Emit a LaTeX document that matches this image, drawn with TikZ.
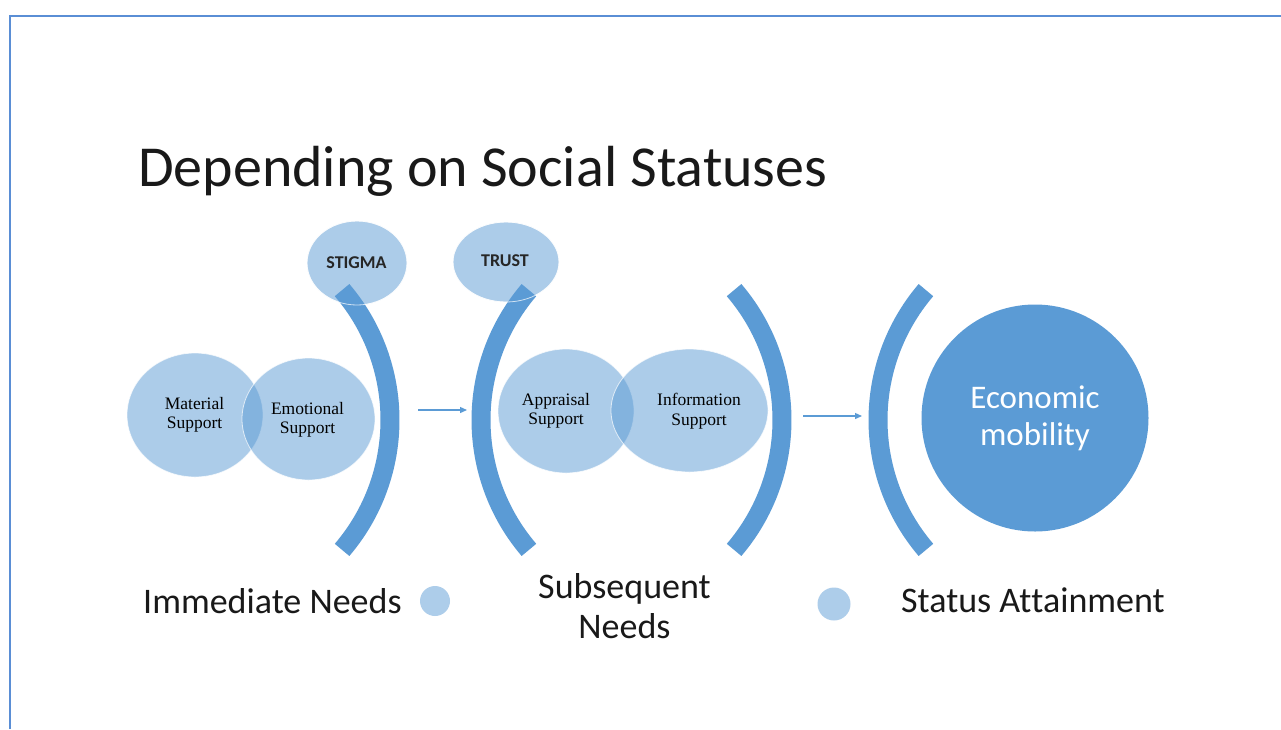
\documentclass[tikz,border=0pt]{standalone}
\usepackage{fontspec}
\setmainfont{Carlito}[Ligatures=NoCommon]
\newfontfamily\serifx{Liberation Serif}
\usetikzlibrary{arrows.meta,shapes.geometric}
\definecolor{accent}{HTML}{5B9BD5}
\definecolor{framec}{HTML}{5A8ED5}
\definecolor{dotc}{HTML}{ADCDEA}
\begin{document}
\begin{tikzpicture}[x=1pt,y=-1pt,
  bubble/.style={ellipse, inner sep=0, fill=accent, fill opacity=0.5, draw=white, draw opacity=0.7, line width=0.8},
  bracket/.style={draw=accent, line width=19},
  flow/.style={draw=accent, line width=1.3, -{Triangle[length=7,width=6]}},
  smalltxt/.style={inner sep=0, align=center, font=\serifx\fontsize{17.5}{19.5}\selectfont, text=black},
  tagtxt/.style={inner sep=0, anchor=base, font=\bfseries\fontsize{18}{20}\selectfont, text=black!85},
  legtxt/.style={inner sep=0, font=\fontsize{36}{40}\selectfont, text=black!90},
  legdot/.style={circle, inner sep=0, minimum size=30, fill=dotc}
]
\useasboundingbox (0,0) rectangle (1281,729);
\fill[white] (0,0) rectangle (1281,729);
% frame
\draw[framec, line width=2] (10,729) -- (10,16) -- (1281,16);
% title
\node[anchor=base west, inner sep=0, font=\fontsize{58}{61}\selectfont, text=black!90] (title) at (138,186) {Depending on Social Statuses};

% tag ellipses
\node[bubble, minimum width=100, minimum height=84] (stig) at (357,263) {};
\node[bubble, minimum width=106, minimum height=80] (trust) at (506,262) {};

% support bubbles
\node[bubble, minimum width=136, minimum height=124] (mat) at (195,415) {};
\node[bubble, minimum width=133, minimum height=122] (emo) at (308.5,419) {};
\node[bubble, minimum width=136, minimum height=124] (app) at (566,411) {};
\node[bubble, minimum width=157, minimum height=123] (inf) at (689.5,410.5) {};

% brackets
\draw[bracket] (190,420) ++(40.5:200) arc[start angle=40.5, end angle=-40.5, radius=200];
\draw[bracket] (681,420) ++(139.5:200) arc[start angle=139.5, end angle=220.5, radius=200];
\draw[bracket] (582,420) ++(40.5:200) arc[start angle=40.5, end angle=-40.5, radius=200];
\draw[bracket] (1078,420) ++(139.5:200) arc[start angle=139.5, end angle=220.5, radius=200];

% white rims of tag ellipses over brackets
\draw[white, draw opacity=0.7, line width=0.8] (stig.center) ellipse[x radius=50, y radius=42];
\draw[white, draw opacity=0.7, line width=0.8] (trust.center) ellipse[x radius=53, y radius=40];

% texts
\node[tagtxt] (stigt) at (356.5,268) {STIGMA};
\node[tagtxt] (trustt) at (505,266) {TRUST};
\node[smalltxt] (matt) at (194.5,415) {Material\\Support};
\node[smalltxt] (emot) at (307.5,420) {Emotional\\Support};
\node[smalltxt] (appt) at (556,411) {Appraisal\\Support};
\node[smalltxt] (inft) at (699,411) {Information\\Support};

% economic mobility
\node[circle, inner sep=0, minimum size=227, fill=accent, text=white, align=center,
      font=\fontsize{33}{37}\selectfont] (eco) at (1035,418) {Economic\\mobility};

% arrows
\coordinate (a1s) at (418,410);
\coordinate (a1e) at (467,410);
\coordinate (a2s) at (803,416);
\coordinate (a2e) at (862,416);
\draw[flow] (a1s) -- (a1e);
\draw[flow] (a2s) -- (a2e);

% legend
\node[legtxt, anchor=base west] (imm) at (143,613) {Immediate Needs};
\node[legdot] (d1) at (435,601) {};
\node[legtxt, anchor=base, align=center] (sub) at (624.5,638) {Subsequent\\Needs};
\node[legdot, minimum size=33] (d2) at (834,604) {};
\node[legtxt, anchor=base west] (stat) at (901,612) {Status At\kern0pt tainment};
\end{tikzpicture}
\end{document}
